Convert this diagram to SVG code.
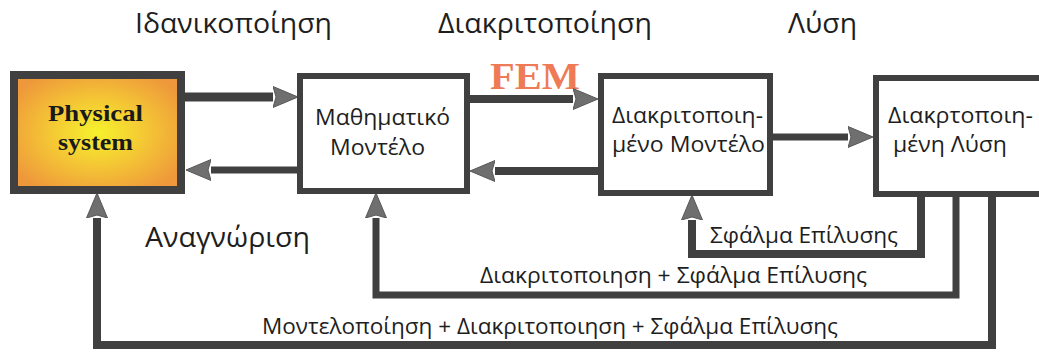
<svg xmlns="http://www.w3.org/2000/svg" width="1039" height="352" viewBox="0 0 1039 352">
<style>
.box{fill:#fff;stroke:#404040;stroke-width:6}
.lbl{font-family:"Open Sans","Noto Sans","DejaVu Sans",sans-serif;fill:#1e1e1e}
.conn{fill:none;stroke:#404040;stroke-linejoin:miter}
.phys{font-family:"Liberation Serif","Times New Roman",serif;font-weight:bold;fill:#1a1a1a}
</style>
<defs>
<radialGradient id="pg" cx="50%" cy="50%" r="60%">
<stop offset="0" stop-color="#f6f22c"/>
<stop offset="0.5" stop-color="#f4c535"/>
<stop offset="1" stop-color="#ee973b"/>
</radialGradient>
<marker id="ah" markerUnits="userSpaceOnUse" markerWidth="26" markerHeight="22" refX="0" refY="11" orient="auto" viewBox="0 0 26 22">
<path d="M0,0.5 L25,11 L0,21.5 L3,11 z" fill="#6f6f6f" stroke="#575757" stroke-width="1"/>
</marker>
</defs>

<!-- top labels -->
<text class="lbl" x="135" y="33" font-size="27" textLength="197" lengthAdjust="spacingAndGlyphs">Ιδανικοποίηση</text>
<text class="lbl" x="438" y="33" font-size="27" textLength="214" lengthAdjust="spacingAndGlyphs">Διακριτοποίηση</text>
<text class="lbl" x="788" y="33" font-size="27" textLength="69" lengthAdjust="spacingAndGlyphs">Λύση</text>
<text x="490" y="89" font-family="Liberation Serif,serif" font-weight="bold" font-size="38" fill="#ee7a56" textLength="90" lengthAdjust="spacingAndGlyphs">FEM</text>
<text class="lbl" x="145" y="247" font-size="27" textLength="165" lengthAdjust="spacingAndGlyphs">Αναγνώριση</text>

<g id="connectors">
<path class="conn" stroke-width="9" d="M185,97 H273" marker-end="url(#ah)"/>
<path class="conn" stroke-width="7" d="M297,170 H211" marker-end="url(#ah)"/>
<path class="conn" stroke-width="8" d="M470,99 H573" marker-end="url(#ah)"/>
<path class="conn" stroke-width="8" d="M598,171 H495" marker-end="url(#ah)"/>
<path class="conn" stroke-width="7" d="M773,137 H848" marker-end="url(#ah)"/>
<path class="conn" stroke-width="8" d="M921,196 V254 H692 V220" marker-end="url(#ah)"/>
<path class="conn" stroke-width="7" d="M956,196 V295 H376 V218" marker-end="url(#ah)"/>
<path class="conn" stroke-width="8" d="M992,196 V345 H97 V218" marker-end="url(#ah)"/>
<text class="lbl" x="710" y="243" font-size="21" textLength="188" lengthAdjust="spacingAndGlyphs">Σφάλμα Επίλυσης</text>
<text class="lbl" x="480" y="283" font-size="21" textLength="387" lengthAdjust="spacingAndGlyphs">Διακριτοποιηση + Σφάλμα Επίλυσης</text>
<text class="lbl" x="262" y="334" font-size="21" textLength="576" lengthAdjust="spacingAndGlyphs">Μοντελοποίηση + Διακριτοποιηση + Σφάλμα Επίλυσης</text>
</g>

<g id="physical-system">
<rect x="14" y="75" width="167" height="115" fill="url(#pg)" stroke="#404040" stroke-width="8"/>
<text class="phys" x="48" y="121" font-size="24" textLength="95" lengthAdjust="spacingAndGlyphs">Physical</text>
<text class="phys" x="58" y="150" font-size="24" textLength="75" lengthAdjust="spacingAndGlyphs">system</text>
</g>

<g id="math-model">
<rect class="box" x="300" y="76" width="167" height="115"/>
<text class="lbl" x="315" y="125" font-size="21" textLength="135" lengthAdjust="spacingAndGlyphs">Μαθηματικό</text>
<text class="lbl" x="330" y="155" font-size="21" textLength="95" lengthAdjust="spacingAndGlyphs">Μοντέλο</text>
</g>

<g id="discrete-model">
<rect class="box" x="601" y="76" width="169" height="117"/>
<text class="lbl" x="612" y="123" font-size="21" textLength="151" lengthAdjust="spacingAndGlyphs">Διακριτοποιη-</text>
<text class="lbl" x="612" y="152" font-size="21" textLength="153" lengthAdjust="spacingAndGlyphs">μένο Μοντέλο</text>
</g>

<g id="discrete-solution">
<rect class="box" x="876" y="78" width="175" height="116"/>
<text class="lbl" x="888" y="123" font-size="21" textLength="145" lengthAdjust="spacingAndGlyphs">Διακρτοποιη-</text>
<text class="lbl" x="893" y="152" font-size="21" textLength="114" lengthAdjust="spacingAndGlyphs">μένη Λύση</text>
</g>
</svg>
